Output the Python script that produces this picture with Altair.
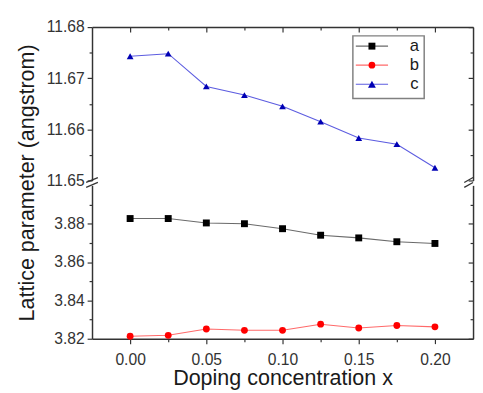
import altair as alt
import pandas as pd

# ---- data ----
x_vals = [0.0, 0.025, 0.05, 0.075, 0.1, 0.125, 0.15, 0.175, 0.2]
a_vals = [3.8827, 3.8827, 3.8804, 3.8800, 3.8774, 3.8740, 3.8726, 3.8706, 3.8697]
b_vals = [3.8213, 3.8218, 3.8251, 3.8244, 3.8244, 3.8276, 3.8256, 3.8269, 3.8262]
c_vals = [11.6743, 11.6748, 11.6684, 11.6667, 11.6645, 11.6615, 11.6583, 11.6571, 11.6525]
series_names = ["a", "b", "c"]

x_major = [0.0, 0.05, 0.1, 0.15, 0.2]
x_minor = [0.025, 0.075, 0.125, 0.175]
top_major = [11.65, 11.66, 11.67, 11.68]
top_minor = [11.655, 11.665, 11.675]
bot_major = [3.82, 3.84, 3.86, 3.88]
bot_minor = [3.83, 3.85, 3.87, 3.89]

# ---- styling ----
line_colors = ["#6a6a6a", "#ff6a6a", "#5c5ce0"]
marker_colors = ["#000000", "#ff0000", "#0000b4"]
marker_shapes = ["square", "circle", "triangle-up"]
marker_sizes = [50, 48, 64]
FONT = "Liberation Sans"
AX = "#333333"
W, H1, H2 = 390, 157, 157

rows = []
for name, vals in zip(series_names, [a_vals, b_vals, c_vals]):
    for xv, yv in zip(x_vals, vals):
        rows.append({"x": xv, "value": yv, "series": name})
df = pd.DataFrame(rows)
top_df = df[df.series == "c"]
bot_df = df[df.series.isin(["a", "b"])]

col_line = alt.Color("series:N", scale=alt.Scale(domain=series_names, range=line_colors), legend=None)
col_mark = alt.Color("series:N", scale=alt.Scale(domain=series_names, range=marker_colors), legend=None)
shp = alt.Shape("series:N", scale=alt.Scale(domain=series_names, range=marker_shapes), legend=None)
siz = alt.Size("series:N", scale=alt.Scale(domain=series_names, range=marker_sizes), legend=None)


def xs():
    return alt.Scale(domain=[-0.025, 0.225], nice=False, zero=False)


def panel(data, ydom, ymaj, ymin, H, top):
    ys = lambda: alt.Scale(domain=ydom, nice=False, zero=False)
    if top:
        xa_major = alt.Axis(orient="bottom", offset=-H, values=x_major, labels=False, title=None,
                            tickSize=5, domain=True)
        xa_minor = alt.Axis(orient="bottom", offset=-H, values=x_minor, labels=False, title=None,
                            tickSize=3, domain=False)
        ya_major = alt.Axis(orient="left", values=ymaj, format=".2f", title=None, tickSize=5,
                            labelPadding=3)
    else:
        xa_major = alt.Axis(orient="bottom", values=x_major, format=".2f",
                            title="Doping concentration x", tickSize=5, labelPadding=8,
                            titleFontSize=22, titlePadding=1, titleFont=FONT,
                            titleFontWeight="normal", titleColor="#1a1a1a")
        xa_minor = alt.Axis(orient="bottom", values=x_minor, labels=False, title=None,
                            tickSize=3, domain=False)
        ya_major = alt.Axis(orient="left", values=ymaj, format=".2f",
                            title="Lattice parameter (angstrom)", tickSize=5, labelPadding=3,
                            titleFontSize=22, titleFont=FONT, titleFontWeight="normal",
                            titleColor="#1a1a1a", titleX=-67, titleY=-3,
                            titleAlign="center", titleBaseline="middle")
    ya_minor = alt.Axis(orient="left", values=ymin, labels=False, title=None, tickSize=3,
                        domain=False)
    ya_rmajor = alt.Axis(orient="left", offset=-W, values=ymaj, labels=False, title=None,
                         tickSize=5, domain=True)
    ya_rminor = alt.Axis(orient="left", offset=-W, values=ymin, labels=False, title=None,
                         tickSize=3, domain=False)

    base = alt.Chart(data)
    lines = base.mark_line(strokeWidth=1.1).encode(
        x=alt.X("x:Q", scale=xs(), axis=xa_major),
        y=alt.Y("value:Q", scale=ys(), axis=ya_major),
        color=col_line, detail="series:N",
    )
    pts = base.mark_point(filled=True, opacity=1).encode(
        x=alt.X("x:Q", scale=xs(), axis=xa_minor),
        y=alt.Y("value:Q", scale=ys(), axis=ya_minor),
        color=col_mark, shape=shp, size=siz,
    )
    r1 = base.mark_point(opacity=0).encode(
        x=alt.X("x:Q", scale=xs(), axis=None),
        y=alt.Y("value:Q", scale=ys(), axis=ya_rmajor),
    )
    r2 = base.mark_point(opacity=0).encode(
        x=alt.X("x:Q", scale=xs(), axis=None),
        y=alt.Y("value:Q", scale=ys(), axis=ya_rminor),
    )
    return [lines, pts, r1, r2]


top_layers = panel(top_df, [11.65, 11.68], top_major, top_minor, H1, True)
bot_layers = panel(bot_df, [3.82, 3.90], bot_major, bot_minor, H2, False)

# ---- legend (drawn inside the top panel) ----
one = pd.DataFrame({"k": [0]})
legend_layers = [
    alt.Chart(one).mark_rect(fill="white", stroke="#808080", strokeWidth=1.5).encode(
        x=alt.value(267), x2=alt.value(340), y=alt.value(9), y2=alt.value(73))
]
row_y = [19.5, 39, 58.5]
for name, lc, mc, sh, sz, ry in zip(series_names, line_colors, marker_colors,
                                    marker_shapes, marker_sizes, row_y):
    sdf = pd.DataFrame({"series": [name]})
    legend_layers.append(alt.Chart(sdf).mark_rule(color=lc, strokeWidth=1.2).encode(
        x=alt.value(270), x2=alt.value(303), y=alt.value(ry)))
    legend_layers.append(alt.Chart(sdf).mark_point(filled=True, opacity=1, color=mc,
                                                   shape=sh, size=sz).encode(
        x=alt.value(286.5), y=alt.value(ry)))
    legend_layers.append(alt.Chart(sdf).mark_text(font=FONT, fontSize=17, color="#1a1a1a",
                                                  align="center", baseline="middle").encode(
        x=alt.value(330), y=alt.value(ry), text="series:N"))

# ---- axis-break marks ----
brk = []
for (x1, x2) in [(-6, 6), (W - 9, W)]:
    for dy in [0, 5]:
        brk.append(alt.Chart(one).mark_rule(color=AX, strokeWidth=1.3).encode(
            x=alt.value(x1), x2=alt.value(x2),
            y=alt.value(H1 + 2 + dy), y2=alt.value(H1 - 3 + dy)))

res = dict(x="independent", y="independent", color="independent",
           shape="independent", size="independent")

top = alt.layer(*top_layers, *legend_layers, *brk).resolve_scale(
    **res).resolve_axis(x="independent", y="independent").properties(width=W, height=H1)
bottom = alt.layer(*bot_layers).resolve_scale(**res).resolve_axis(
    x="independent", y="independent").properties(width=W, height=H2)

chart = alt.vconcat(top, bottom, spacing=5, bounds="flush").properties(
    padding={"left": 7, "top": 6, "right": 0, "bottom": 0}
).configure(font=FONT).configure_view(stroke="transparent").configure_axis(
    grid=False, domainColor=AX, domainWidth=1.5, tickColor=AX, tickWidth=1.2,
    labelFont=FONT, labelFontSize=16, labelColor="#333333",
)

chart.save("out.html", embed_options={"renderer": "svg", "actions": False})
